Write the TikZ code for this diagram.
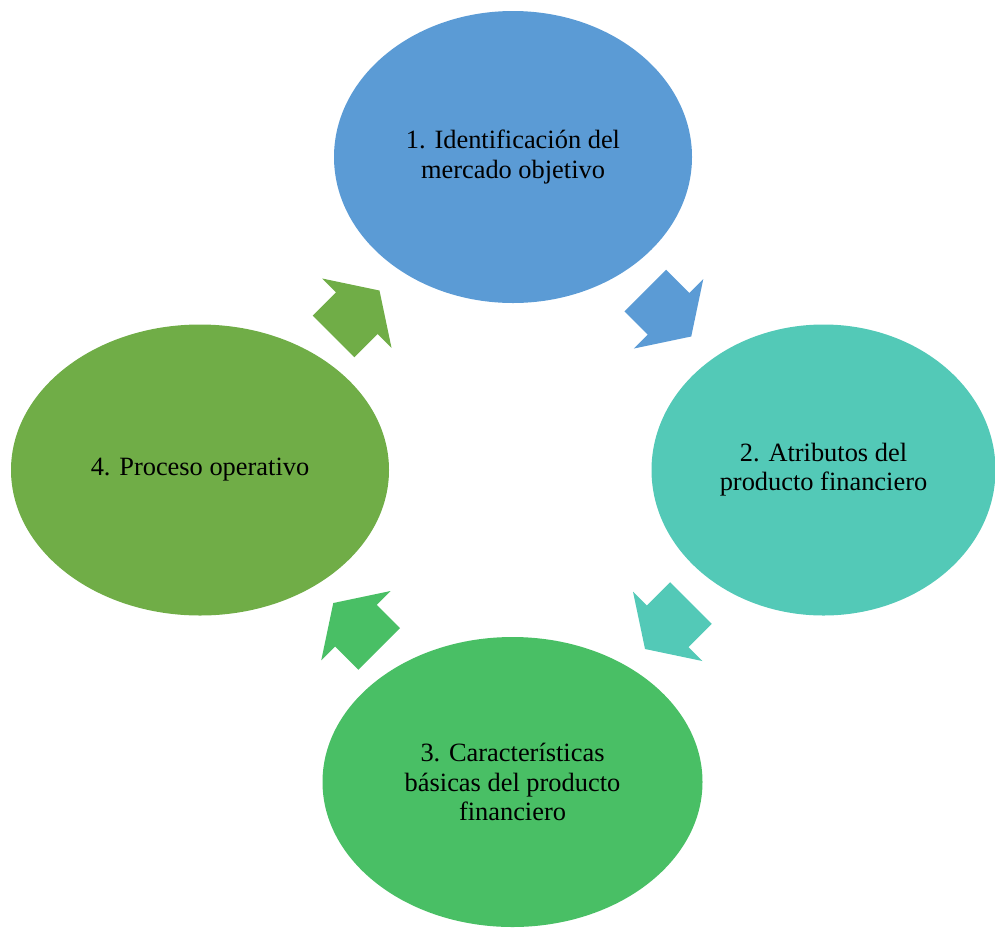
\documentclass[tikz,border=0pt]{standalone}
\usepackage{fontspec}
\setmainfont{Liberation Serif}
\usepackage{tikz}
\definecolor{white}{rgb}{1.0, 1.0, 1.0}
\definecolor{black}{rgb}{0.0, 0.0, 0.0}
\definecolor{stepblue}{RGB}{91,155,213}
\definecolor{stepteal}{RGB}{83,201,183}
\definecolor{stepgreen}{RGB}{73,191,101}
\definecolor{stepolive}{RGB}{112,173,71}
\usetikzlibrary{shapes.geometric}
\usetikzlibrary{calc}
\pgfdeclarelayer{edgelayer}
\pgfdeclarelayer{nodelayer}
\pgfsetlayers{edgelayer,nodelayer,main}
\tikzstyle{stage}=[ellipse,draw=none,inner sep=0pt,align=center,text=black,font=\fontsize{13.2}{14.6}\selectfont]
\tikzset{cyclearrow/.pic={\fill (-32.5,-29.5) -- (0.5,-29.5) -- (0.5,-49) -- (32.5,0) -- (0.5,49) -- (0.5,29.5) -- (-32.5,29.5) -- cycle;}}

\begin{document}
\begin{tikzpicture}[x=0.5pt,y=-0.5pt]
        \useasboundingbox (0,0) rectangle (995,927);
        \begin{pgfonlayer}{nodelayer}
            \node [style = stage, fill=stepblue, minimum width=179pt, minimum height=146pt] (ident) at (513, 157) {1. Identificación del\\mercado objetivo};
            \node [style = stage, fill=stepteal, minimum width=172pt, minimum height=145.5pt] (attr) at (823.5, 470) {2. Atributos del\\producto financiero};
            \node [style = stage, fill=stepgreen, minimum width=190pt, minimum height=145pt] (carac) at (512.5, 782) {3. Características\\básicas del producto\\financiero};
            \node [style = stage, fill=stepolive, minimum width=189pt, minimum height=145.5pt] (proc) at (200, 470) {4. Proceso operativo};
        \end{pgfonlayer}

        \begin{pgfonlayer}{edgelayer}
            \pic [fill=stepblue, rotate=-45] at ($(ident)!0.5!(attr)$) {cyclearrow};
            \pic [fill=stepteal, rotate=-135] at ($(attr)!0.5!(carac)$) {cyclearrow};
            \pic [fill=stepgreen, rotate=135] at ($(carac)!0.5!(proc)$) {cyclearrow};
            \pic [fill=stepolive, rotate=45] at ($(proc)!0.5!(ident)$) {cyclearrow};
        \end{pgfonlayer}
    \end{tikzpicture}
\end{document}
